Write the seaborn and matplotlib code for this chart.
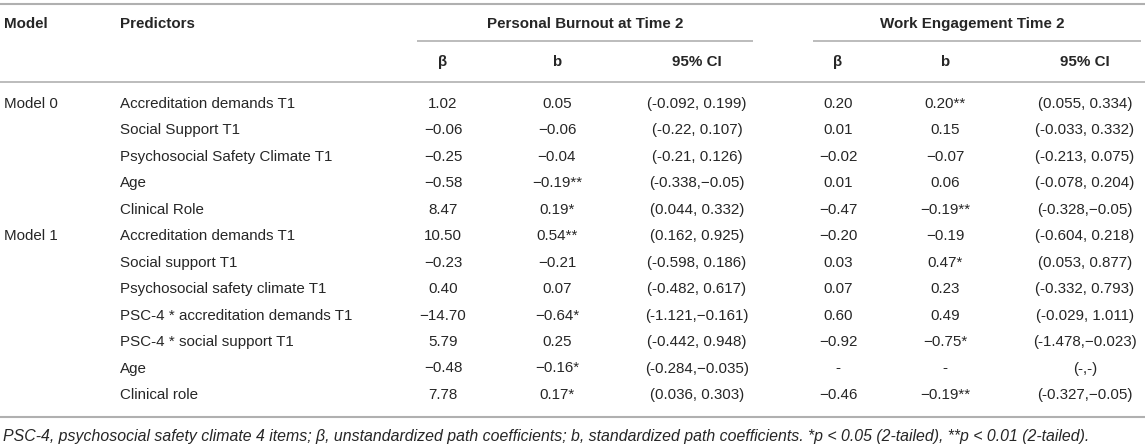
import matplotlib
matplotlib.use("Agg")
import matplotlib.pyplot as plt
import pandas as pd
import seaborn as sns

# table content
models = ["Model 0", "", "", "", "", "Model 1", "", "", "", "", "", ""]
predictors = [
    "Accreditation demands T1", "Social Support T1", "Psychosocial Safety Climate T1",
    "Age", "Clinical Role",
    "Accreditation demands T1", "Social support T1", "Psychosocial safety climate T1",
    "PSC-4 * accreditation demands T1", "PSC-4 * social support T1", "Age", "Clinical role",
]
burnout_beta = ["1.02", "\u22120.06", "\u22120.25", "\u22120.58", "8.47",
                "10.50", "\u22120.23", "0.40", "\u221214.70", "5.79", "\u22120.48", "7.78"]
burnout_b = ["0.05", "\u22120.06", "\u22120.04", "\u22120.19**", "0.19*",
             "0.54**", "\u22120.21", "0.07", "\u22120.64*", "0.25", "\u22120.16*", "0.17*"]
burnout_ci = ["(-0.092, 0.199)", "(-0.22, 0.107)", "(-0.21, 0.126)", "(-0.338,\u22120.05)",
              "(0.044, 0.332)", "(0.162, 0.925)", "(-0.598, 0.186)", "(-0.482, 0.617)",
              "(-1.121,\u22120.161)", "(-0.442, 0.948)", "(-0.284,\u22120.035)", "(0.036, 0.303)"]
engage_beta = ["0.20", "0.01", "\u22120.02", "0.01", "\u22120.47",
               "\u22120.20", "0.03", "0.07", "0.60", "\u22120.92", "-", "\u22120.46"]
engage_b = ["0.20**", "0.15", "\u22120.07", "0.06", "\u22120.19**",
            "\u22120.19", "0.47*", "0.23", "0.49", "\u22120.75*", "-", "\u22120.19**"]
engage_ci = ["(0.055, 0.334)", "(-0.033, 0.332)", "(-0.213, 0.075)", "(-0.078, 0.204)",
             "(-0.328,\u22120.05)", "(-0.604, 0.218)", "(0.053, 0.877)", "(-0.332, 0.793)",
             "(-0.029, 1.011)", "(-1.478,\u22120.023)", "(-,-)", "(-0.327,\u22120.05)"]
group_titles = ["Personal Burnout at Time 2", "Work Engagement Time 2"]
sub_titles = ["\u03b2", "b", "95% CI", "\u03b2", "b", "95% CI"]
footnote = ("PSC-4, psychosocial safety climate 4 items; \u03b2, unstandardized path coefficients; "
            "b, standardized path coefficients. *p < 0.05 (2-tailed), **p < 0.01 (2-tailed).")

df = pd.DataFrame({
    "model": models, "predictor": predictors,
    "pb_beta": burnout_beta, "pb_b": burnout_b, "pb_ci": burnout_ci,
    "we_beta": engage_beta, "we_b": engage_b, "we_ci": engage_ci,
})

sns.set_theme(style="white")
plt.rcParams["font.family"] = ["Liberation Sans", "DejaVu Sans"]

W, H = 1145, 448
fig = plt.figure(figsize=(W / 100, H / 100), dpi=100)
ax = fig.add_axes([0, 0, 1, 1])
ax.set_xlim(0, W)
ax.set_ylim(H, 0)
ax.axis("off")

txt = "#262626"
line_c = "#b0b0b0"
fs = 10.9

# layout (pixels)
x_model, x_pred = 4, 120
col_x = [443, 557, 697, 838, 945, 1085]
group_x = [585, 972]
group_span = [(417, 753), (813, 1141)]
y_head, y_under, y_sub, y_line = 24, 41, 62, 82
y_row0, dy = 104, 26.45
y_bottom, y_foot = 417, 436

ax.plot([0, W], [4, 4], color=line_c, lw=1.5, solid_capstyle="butt")
ax.plot([0, W], [y_line, y_line], color=line_c, lw=1.2, solid_capstyle="butt")
ax.plot([0, W], [y_bottom, y_bottom], color=line_c, lw=1.5, solid_capstyle="butt")
for x0, x1 in group_span:
    ax.plot([x0, x1], [y_under, y_under], color=line_c, lw=1.2, solid_capstyle="butt")

ax.text(x_model, y_head, "Model", fontsize=fs, fontweight="bold", color=txt, va="center")
ax.text(x_pred, y_head, "Predictors", fontsize=fs, fontweight="bold", color=txt, va="center")
for gx, title in zip(group_x, group_titles):
    ax.text(gx, y_head, title, fontsize=fs, fontweight="bold", color=txt, ha="center", va="center")
for cx, s in zip(col_x, sub_titles):
    ax.text(cx, y_sub, s, fontsize=fs, fontweight="bold", color=txt, ha="center", va="center")

value_cols = ["pb_beta", "pb_b", "pb_ci", "we_beta", "we_b", "we_ci"]
for i, row in df.iterrows():
    y = y_row0 + i * dy
    if row["model"]:
        ax.text(x_model, y, row["model"], fontsize=fs, color=txt, va="center")
    ax.text(x_pred, y, row["predictor"], fontsize=fs, color=txt, va="center")
    for cx, c in zip(col_x, value_cols):
        ax.text(cx, y, row[c], fontsize=fs, color=txt, ha="center", va="center")

# footnote, sized to run to about x=1090
foot = ax.text(3, y_foot, footnote, fontsize=10, style="italic", color=txt, va="center")
r = fig.canvas.get_renderer()
w = foot.get_window_extent(r).width
foot.set_fontsize(10 * 1087 / w)

fig.savefig("out.png", dpi=100)
